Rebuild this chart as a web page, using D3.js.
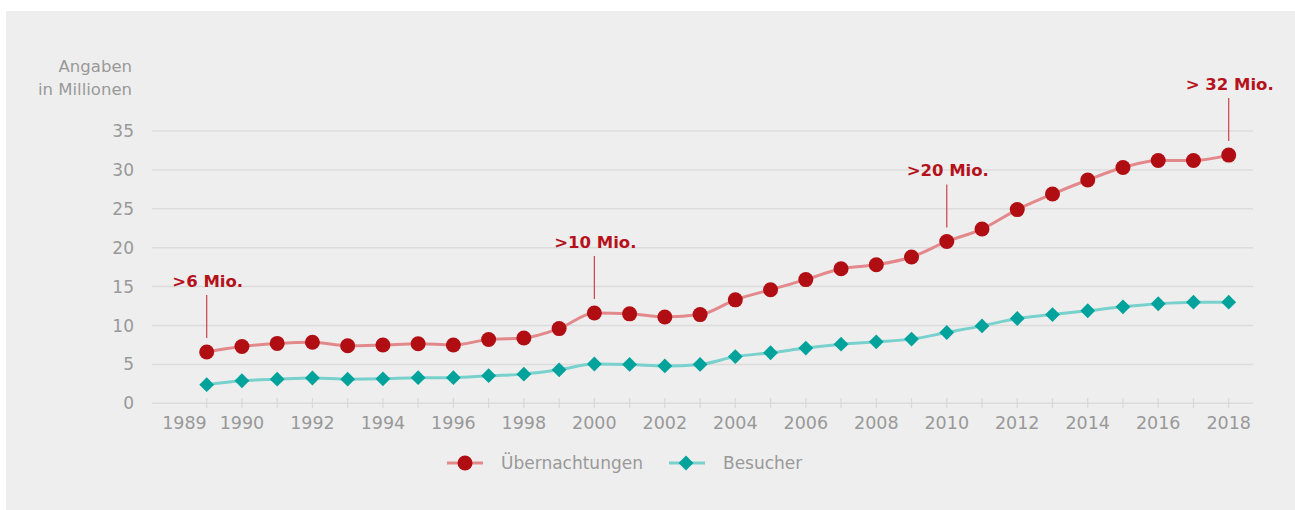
<!DOCTYPE html>
<html><head><meta charset="utf-8">
<script src="https://cdn.jsdelivr.net/npm/d3@7"></script>
<style>
html,body{margin:0;padding:0;background:#fff;}
svg{display:block;}
text{font-family:"DejaVu Sans",sans-serif;}
</style></head>
<body>
<svg id="chart" width="1295" height="510"></svg>
<script>
const years = d3.range(1989, 2019);
const xTickLabels = [1989,1990,1992,1994,1996,1998,2000,2002,2004,2006,2008,2010,2012,2014,2016,2018];
const yTicks = [0,5,10,15,20,25,30,35];
const uebernachtungen = [6.6,7.3,7.7,7.85,7.4,7.5,7.65,7.5,8.2,8.4,9.6,11.6,11.5,11.1,11.4,13.3,14.6,15.9,17.3,17.8,18.8,20.8,22.4,24.9,26.9,28.7,30.3,31.2,31.2,31.9];
const besucher = [2.4,2.9,3.1,3.25,3.1,3.15,3.3,3.3,3.55,3.75,4.3,5.05,5.0,4.8,5.0,6.0,6.5,7.1,7.6,7.9,8.25,9.1,9.95,10.9,11.4,11.9,12.4,12.8,13.0,13.0];
const annotations = [
  {year:1989, label:">6 Mio."},
  {year:2000, label:">10 Mio."},
  {year:2010, label:">20 Mio."},
  {year:2018, label:"> 32 Mio."}
];
const seriesNames = ["Übernachtungen","Besucher"];

const svg = d3.select("#chart");
svg.append("rect").attr("x",6).attr("y",11).attr("width",1289).attr("height",499).attr("fill","#eeeeee");

const x = d3.scaleLinear().domain([1989,2018]).range([206.7,1228.7]);
const y = d3.scaleLinear().domain([0,35]).range([403.3,131]);

// gridlines
svg.append("g").selectAll("line").data(yTicks).join("line")
  .attr("x1",152).attr("x2",1253)
  .attr("y1",d=>y(d)).attr("y2",d=>y(d))
  .attr("stroke","#dcdcdc").attr("stroke-width",1.5);

// y labels
svg.append("g").selectAll("text").data(yTicks).join("text")
  .attr("x",134).attr("y",d=>y(d)+6)
  .attr("text-anchor","end").attr("font-size",17).attr("fill","#999")
  .text(d=>d);

svg.append("text").attr("x",132).attr("y",72).attr("text-anchor","end")
  .attr("font-size",16.5).attr("fill","#999").text("Angaben");
svg.append("text").attr("x",132).attr("y",95).attr("text-anchor","end")
  .attr("font-size",16.5).attr("fill","#999").text("in Millionen");

// x ticks
svg.append("g").selectAll("line").data(years).join("line")
  .attr("x1",d=>x(d)).attr("x2",d=>x(d))
  .attr("y1",398).attr("y2",408)
  .attr("stroke","#d8d8d8").attr("stroke-width",1.2);

svg.append("g").selectAll("text").data(xTickLabels).join("text")
  .attr("x",d=>x(d))
  .attr("y",429)
  .attr("text-anchor",d=>d===1989?"end":"middle")
  .attr("font-size",17.5).attr("fill","#999")
  .text(d=>d);

const line = d3.line().x((d,i)=>x(years[i])).y(d=>y(d)).curve(d3.curveMonotoneX);

const redLine = "#e3888b", redDot = "#b10e14";
const tealLine = "#78d1cc", tealDot = "#00a39c";

svg.append("path").datum(besucher).attr("d",line).attr("fill","none")
  .attr("stroke",tealLine).attr("stroke-width",3);
svg.append("path").datum(uebernachtungen).attr("d",line).attr("fill","none")
  .attr("stroke",redLine).attr("stroke-width",3);

const diamond = d3.symbol().type(d3.symbolSquare).size(110);
svg.append("g").selectAll("path").data(besucher).join("path")
  .attr("d",diamond())
  .attr("transform",(d,i)=>`translate(${x(years[i])},${y(d)}) rotate(45)`)
  .attr("fill",tealDot);

svg.append("g").selectAll("circle").data(uebernachtungen).join("circle")
  .attr("cx",(d,i)=>x(years[i])).attr("cy",d=>y(d)).attr("r",7.5)
  .attr("fill",redDot);

// annotations
const ann = svg.append("g");
annotations.forEach(a=>{
  const v = uebernachtungen[years.indexOf(a.year)];
  const py = y(v);
  ann.append("line").attr("x1",x(a.year)).attr("x2",x(a.year))
    .attr("y1",py-14).attr("y2",py-57)
    .attr("stroke","#c8444a").attr("stroke-width",1.2);
  ann.append("text").attr("x",x(a.year)+1).attr("y",py-65)
    .attr("text-anchor","middle").attr("font-size",16.5).attr("font-weight","bold")
    .attr("fill","#b5121b").text(a.label);
});

// legend
const lg = svg.append("g");
lg.append("line").attr("x1",447).attr("x2",483).attr("y1",463).attr("y2",463).attr("stroke",redLine).attr("stroke-width",3);
lg.append("circle").attr("cx",465).attr("cy",463).attr("r",7.5).attr("fill",redDot);
lg.append("text").attr("x",501).attr("y",469).attr("font-size",17).attr("fill","#999").text(seriesNames[0]);
lg.append("line").attr("x1",669).attr("x2",705).attr("y1",463).attr("y2",463).attr("stroke",tealLine).attr("stroke-width",3);
lg.append("path").attr("d",diamond()).attr("transform","translate(686,463) rotate(45)").attr("fill",tealDot);
lg.append("text").attr("x",723).attr("y",469).attr("font-size",17).attr("fill","#999").text(seriesNames[1]);
</script>
</body></html>
